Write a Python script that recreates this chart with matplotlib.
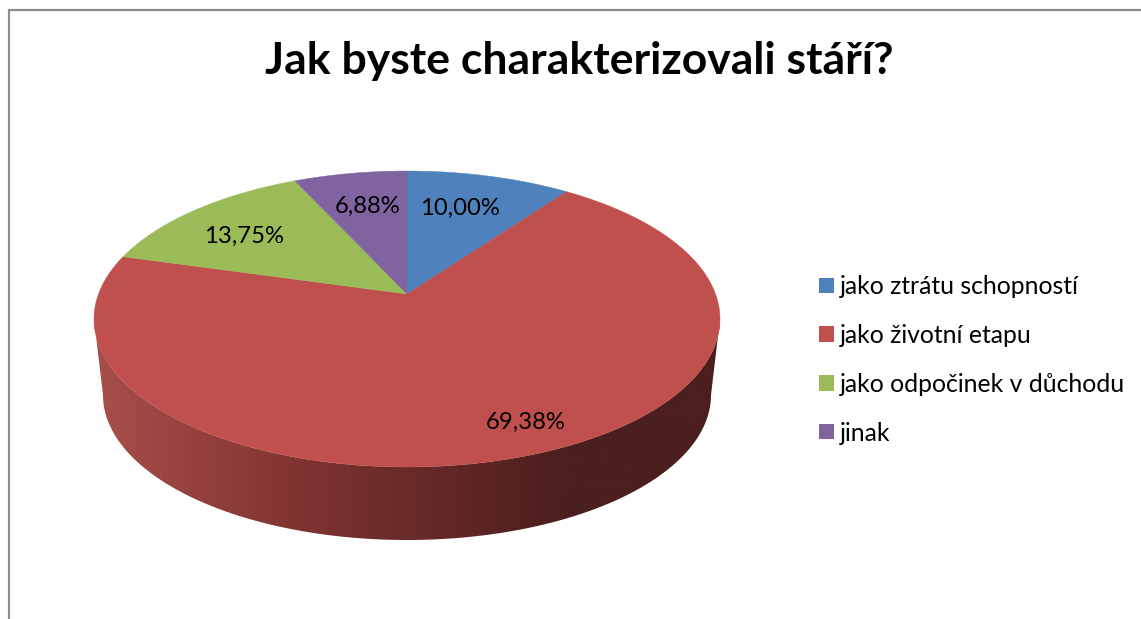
import numpy as np
import matplotlib
matplotlib.use("Agg")
import matplotlib.pyplot as plt
from matplotlib.colors import LinearSegmentedColormap
from matplotlib.patches import Patch, Polygon

categories = ['jako ztrátu schopností', 'jako životní etapu', 'jako odpočinek v důchodu', 'jinak']
values = [10.00, 69.38, 13.75, 6.88]
colors = ['#4f81bd', '#c0504d', '#9bbb59', '#8064a2']
title = 'Jak byste charakterizovali stáří?'

# pixel layout of the tilted pie
cx, cy = 407, 319
rx, ry = 313, 148
apex_y = 294
bottom_y, bottom_rx, bottom_ry = 395, 304, 145
label_pos = [(460, 208), (526, 422), (244, 236), (368, 206)]

plt.rcParams['font.family'] = ['Lato', 'DejaVu Sans']

fig = plt.figure(figsize=(11.41, 6.19), dpi=100)
ax = fig.add_axes([0, 0, 1, 1])
ax.set_xlim(0, 1141)
ax.set_ylim(619, 0)
ax.axis('off')


# circle angle (clockwise from top) to screen, center goes to the apex
def project(t):
    c = (cy - apex_y) / ry
    u, v = np.sin(t), np.cos(t)
    w = 1 + c * v
    return cx + rx * np.sqrt(1 - c**2) * u / w, cy - ry * (v + c) / w


# side wall, gradient clipped to the visible band
t = np.linspace(np.pi, 2 * np.pi, 200)
top_x, top_y = cx - rx * np.cos(t - np.pi), cy - ry * np.sin(t)
bot_x, bot_y = cx - bottom_rx * np.cos(t - np.pi), bottom_y - bottom_ry * np.sin(t)
wall = np.vstack([np.c_[top_x, top_y], np.c_[bot_x, bot_y][::-1]])
wall_patch = Polygon(wall, closed=True, facecolor='none', edgecolor='none', transform=ax.transData)
ax.add_patch(wall_patch)
cmap = LinearSegmentedColormap.from_list('wall', [(0, '#a84f4b'), (0.33, '#7f3331'), (0.75, '#4b1f1e'), (1, '#4b1f1e')])
grad = np.linspace(0, 1, 512).reshape(1, -1)
im = ax.imshow(grad, cmap=cmap, extent=[94, 720, 560, 300], aspect='auto', zorder=1)
im.set_clip_path(wall_patch)
ax.set_xlim(0, 1141)
ax.set_ylim(619, 0)

# top face
edges = np.cumsum([0] + values) / sum(values) * 2 * np.pi
for i in range(len(values)):
    a = np.linspace(edges[i], edges[i + 1], 200)
    x, y = project(a)
    ax.fill(np.r_[cx, x], np.r_[apex_y, y], color=colors[i], lw=0.3, zorder=2)

for i in range(len(values)):
    s = f'{values[i]:.2f}%'.replace('.', ',')
    ax.text(label_pos[i][0], label_pos[i][1], s, fontsize=17.2, color='black',
            ha='center', va='center', zorder=3)

ax.text(579, 61, title, fontsize=32, fontweight='bold', color='black', ha='center', va='center')

# chart border, only top and left show
ax.plot([1141, 8.5, 8.5], [9.5, 9.5, 619], color='#8c8c8c', lw=1.6, solid_joinstyle='miter')

handles = [Patch(facecolor=c, edgecolor='none') for c in colors]
ax.legend(handles, categories, loc='upper left', bbox_to_anchor=(819, 275),
          bbox_transform=ax.transData, frameon=False, fontsize=17.8, borderpad=0, borderaxespad=0,
          handlelength=0.61, handleheight=0.58, handletextpad=0.24, labelspacing=1.045)

fig.savefig('out.png', dpi=100)
